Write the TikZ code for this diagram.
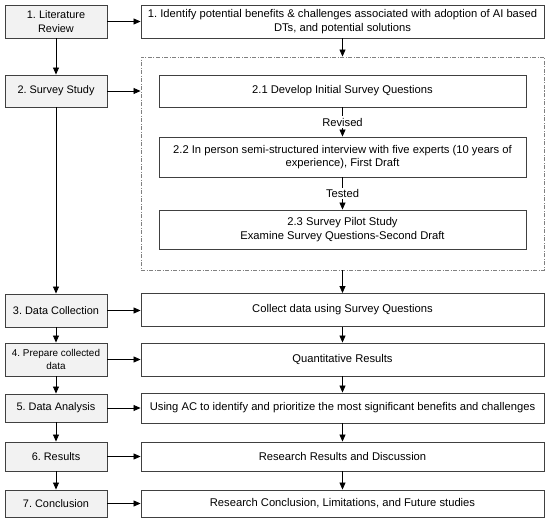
\documentclass[tikz,border=0pt]{standalone}
\usepackage{fontspec}
\setmainfont{Liberation Sans}
\usetikzlibrary{arrows.meta}
\definecolor{boxline}{HTML}{404040}
\definecolor{stepfill}{HTML}{F2F2F2}
\definecolor{dashline}{HTML}{808080}
\frenchspacing
\tikzset{
    stepbox/.style={draw=boxline, fill=stepfill, line width=0.9pt, align=center,
        minimum width=102pt, inner sep=1pt, font=\fontsize{10.9}{13.5}\selectfont},
    taskbox/.style={draw=boxline, fill=white, line width=0.9pt, align=center,
        minimum width=403pt, inner sep=1pt},
    subbox/.style={draw=boxline, fill=white, line width=0.9pt, align=center,
        minimum width=367pt, inner sep=1pt},
    flow/.style={draw=black, line width=0.8pt, -{Triangle[length=7pt,width=6pt]}}
}

\begin{document}
\begin{tikzpicture}[x=1pt, y=-1pt, font=\fontsize{11.2}{13.5}\selectfont]
                \useasboundingbox (0,0) rectangle (550,522);

                % Steps
                \node[stepbox, minimum height=33pt] (lit) at (56,21.5) {1. Literature\\Review};
                \node[stepbox, minimum height=32pt] (survey) at (56,91) {2. Survey Study};
                \node[stepbox, minimum height=33pt] (collect) at (56,310.5) {3. Data Collection};
                \node[stepbox, minimum height=33pt, font=\fontsize{9.9}{12.5}\selectfont] (prepare) at (56,359.5) {4. Prepare collected\\data};
                \node[stepbox, minimum height=28pt] (analysis) at (56,408) {5. Data Analysis};
                \node[stepbox, minimum height=29pt] (results) at (56,456.5) {6. Results};
                \node[stepbox, minimum height=27pt] (concl) at (56,503.5) {7. Conclusion};

                % Tasks
                \node[taskbox, minimum height=33pt] (identify) at (342.5,21.5) {1. Identify potential benefits \& challenges associated with adoption of AI based\\DTs, and potential solutions};
                \node[draw=dashline, line width=0.9pt, dash pattern=on 4pt off 1.5pt on 1pt off 1.5pt,
                    minimum width=403pt, minimum height=213pt] (surveybox) at (342.5,163.5) {};
                \node[subbox, minimum height=32pt] (develop) at (342.5,91) {2.1 Develop Initial Survey Questions};
                \node[subbox, minimum height=40pt] (interview) at (342.5,157) {2.2 In person semi-structured interview with five experts (10 years of\\experience), First Draft};
                \node[subbox, minimum height=39pt] (pilot) at (342.5,229.5) {2.3 Survey Pilot Study\\Examine Survey Questions-Second Draft};
                \node[taskbox, minimum height=33pt] (datause) at (342.5,310) {Collect data using Survey Questions};
                \node[taskbox, minimum height=33pt] (quant) at (342.5,359.5) {Quantitative Results};
                \node[taskbox, minimum height=30pt] (ranking) at (342.5,408) {Using AC to identify and prioritize the most significant benefits and challenges};
                \node[taskbox, minimum height=29pt] (discuss) at (342.5,456.5) {Research Results and Discussion};
                \node[taskbox, minimum height=27pt] (future) at (342.5,503.5) {Research Conclusion, Limitations, and Future studies};

                % Left column
                \draw[flow] (lit) -- (survey);
                \draw[flow] (survey) -- (collect);
                \draw[flow] (collect) -- (prepare);
                \draw[flow] (prepare) -- (analysis);
                \draw[flow] (analysis) -- (results);
                \draw[flow] (results) -- (concl);

                % Across
                \draw[flow] (lit) -- (identify);
                \draw[flow] (survey) -- (surveybox.west |- survey);
                \draw[flow] (collect) -- (collect -| datause.west);
                \draw[flow] (prepare) -- (quant);
                \draw[flow] (analysis) -- (analysis -| ranking.west);
                \draw[flow] (results) -- (discuss);
                \draw[flow] (concl) -- (future);

                % Right column
                \draw[flow] (identify) -- (surveybox);
                \draw[flow] (develop) -- node[fill=white, inner sep=1.5pt] {Revised} (interview);
                \draw[flow] (interview) -- node[fill=white, inner sep=1.5pt] {Tested} (pilot);
                \draw[flow] (surveybox) -- (datause);
                \draw[flow] (datause) -- (quant);
                \draw[flow] (quant) -- (ranking);
                \draw[flow] (ranking) -- (discuss);
                \draw[flow] (discuss) -- (future);
            \end{tikzpicture}
\end{document}
